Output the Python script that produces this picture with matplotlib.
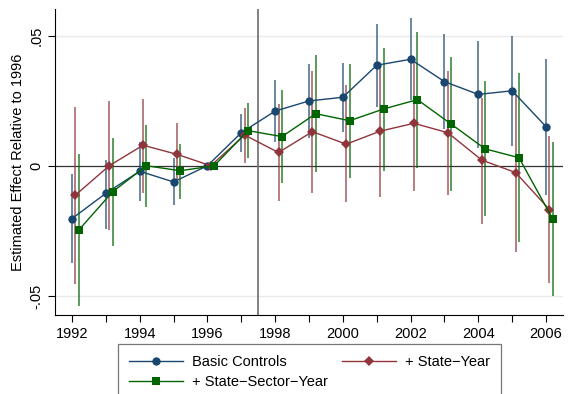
import numpy as np
import matplotlib.pyplot as plt

plt.rcParams['font.family'] = ['Liberation Sans', 'DejaVu Sans']
plt.rcParams['font.size'] = 10.5

years = [1992, 1993, 1994, 1995, 1996, 1997, 1998, 1999,
         2000, 2001, 2002, 2003, 2004, 2005, 2006]

# point estimates and 95% bounds, effect relative to 1996
basic = [-0.0203, -0.0106, -0.0021, -0.0062, 0.0, 0.0127, 0.0210, 0.0249,
         0.0263, 0.0386, 0.0409, 0.0323, 0.0274, 0.0288, 0.0150]
basic_lo = [-0.0373, -0.0242, -0.0136, -0.0151, 0.0, 0.0054, 0.0092, 0.0105,
            0.0128, 0.0224, 0.0253, 0.0140, 0.0067, 0.0076, -0.0113]
basic_hi = [-0.0033, 0.0024, 0.0092, 0.0028, 0.0, 0.0197, 0.0328, 0.0391,
            0.0396, 0.0545, 0.0567, 0.0505, 0.0481, 0.0500, 0.0410]

st_yr = [-0.0113, 0.0, 0.0079, 0.0044, 0.0, 0.0118, 0.0051, 0.0131,
         0.0083, 0.0133, 0.0163, 0.0127, 0.0022, -0.0026, -0.0168]
st_yr_lo = [-0.0453, -0.0247, -0.0103, -0.0058, 0.0, 0.0009, -0.0136, -0.0104,
            -0.0141, -0.0119, -0.0096, -0.0113, -0.0222, -0.0331, -0.0450]
st_yr_hi = [0.0227, 0.0250, 0.0256, 0.0163, 0.0, 0.0223, 0.0237, 0.0364,
            0.0310, 0.0387, 0.0419, 0.0364, 0.0262, 0.0274, 0.0114]

st_sec_yr = [-0.0247, -0.0100, 0.0, -0.0019, 0.0, 0.0135, 0.0112, 0.0200,
             0.0173, 0.0218, 0.0254, 0.0160, 0.0065, 0.0031, -0.0205]
st_sec_yr_lo = [-0.0538, -0.0308, -0.0158, -0.0126, 0.0, 0.0028, -0.0068, -0.0023,
                -0.0046, -0.0019, -0.0010, -0.0096, -0.0194, -0.0292, -0.0501]
st_sec_yr_hi = [0.0044, 0.0108, 0.0156, 0.0082, 0.0, 0.0242, 0.0291, 0.0424,
                0.0391, 0.0454, 0.0513, 0.0417, 0.0326, 0.0355, 0.0090]

labels = ['Basic Controls', '+ State\u2212Year', '+ State\u2212Sector\u2212Year']

fig = plt.figure(figsize=(5.68, 3.94), dpi=100)
ax = fig.add_axes([55 / 568, 79 / 394, 508 / 568, 306 / 394])

yrs = np.array(years, dtype=float)
series = [
    (basic, basic_lo, basic_hi, 0.0, '#1a476f', 'o', 6.0),
    (st_yr, st_yr_lo, st_yr_hi, 0.1, '#90353b', 'D', 5.4),
    (st_sec_yr, st_sec_yr_lo, st_sec_yr_hi, 0.2, '#006400', 's', 5.8),
]

# reference lines and grid
ax.axhline(0.05, color='#eaeaea', lw=1.0, zorder=0)
ax.axhline(-0.05, color='#eaeaea', lw=1.0, zorder=0)
ax.axhline(0, color='#333333', lw=0.9, zorder=1)
ax.axvline(1997.5, color='#777777', lw=1.3, zorder=1)

handles = []
for est, lo, hi, shift, col, mk, ms in series:
    x = yrs + shift
    ax.vlines(x, lo, hi, color=col, lw=1.2, alpha=0.75, zorder=2)
    h, = ax.plot(x, est, color=col, lw=1.0, marker=mk, ms=ms,
                 markeredgewidth=0, zorder=3)
    handles.append(h)

ax.set_xlim(1991.5, 2006.5)
ax.set_ylim(-0.0573, 0.0602)
ax.set_xticks(years)
ax.set_xticklabels([str(y) if y % 2 == 0 else '' for y in years])
ax.set_yticks([-0.05, 0, 0.05])
ax.set_yticklabels(['-.05', '0', '.05'], rotation=90, va='center')
ax.tick_params(length=5, width=0.8, pad=3.5)
ax.spines['top'].set_visible(False)
ax.spines['right'].set_visible(False)
ax.spines['left'].set_linewidth(0.8)
ax.spines['bottom'].set_linewidth(0.8)
ax.set_ylabel('Estimated Effect Relative to 1996', labelpad=3)

leg = fig.legend([handles[0], handles[2], handles[1]],
                 [labels[0], labels[2], labels[1]],
                 ncol=2, loc='upper left',
                 bbox_to_anchor=(118 / 568, 1 - 348 / 394, 383 / 568, 0.01),
                 mode='expand', frameon=True, fancybox=False,
                 handlelength=3.7, handletextpad=0.6, labelspacing=0.4,
                 borderpad=0.75, borderaxespad=0, columnspacing=1.0)
leg.get_frame().set_edgecolor('#555555')
leg.get_frame().set_linewidth(0.9)

fig.savefig('out.png', dpi=100)
